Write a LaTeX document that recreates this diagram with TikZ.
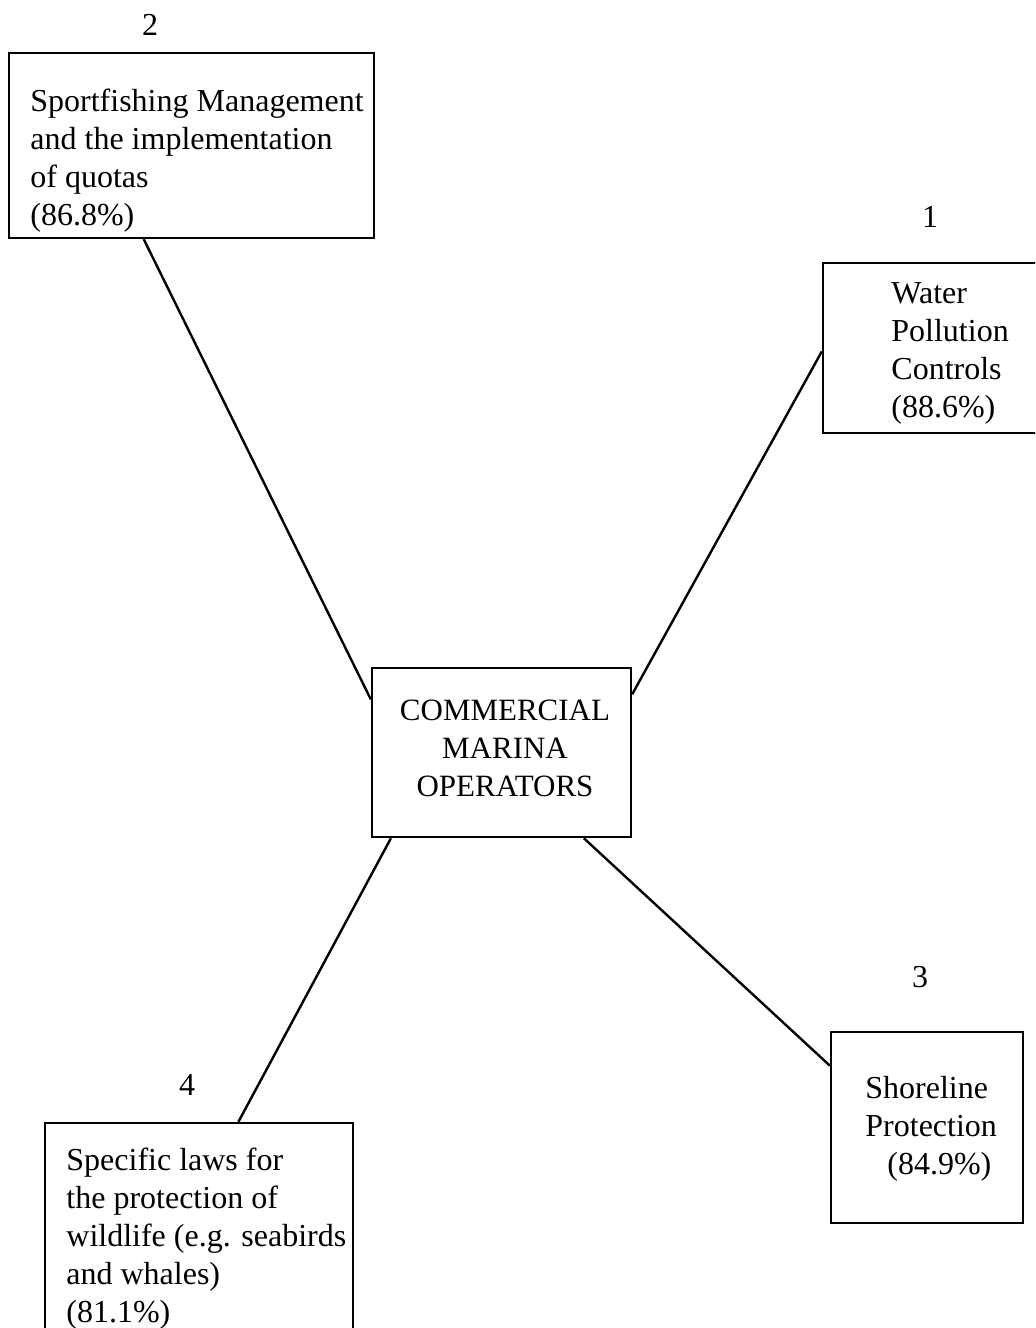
\documentclass[tikz,border=0pt]{standalone}
\usepackage{fontspec}
\setmainfont{Liberation Serif}
\usetikzlibrary{calc}
\tikzset{
  box/.style={draw, line width=1.2pt, inner sep=0pt, rectangle},
  txt/.style={inner sep=0pt, align=left, anchor=north west, font=\fontsize{16}{19}\selectfont},
  ctxt/.style={inner sep=0pt, align=center, anchor=north, font=\fontsize{15.5}{19}\selectfont},
  num/.style={inner sep=0pt, anchor=base, font=\fontsize{16}{19}\selectfont},
  link/.style={line width=1.2pt}
}
\begin{document}
\begin{tikzpicture}[x=0.5pt,y=-0.5pt]
\useasboundingbox (0,0) rectangle (1035,1328);
\clip (0,0) rectangle (1035,1328);
\fill[white] (0,0) rectangle (1035,1328);
% boxes
\node[box, minimum width=182.5pt, minimum height=92.5pt] (b2) at (191.5,145.5) {};
\node[box, minimum width=108.5pt, minimum height=85pt] (b1) at (931.5,348) {};
\node[box, minimum width=129.5pt, minimum height=84.5pt] (c) at (501.5,752.5) {};
\node[box, minimum width=96pt, minimum height=95.5pt] (b3) at (927,1127.5) {};
\node[box, minimum width=154pt, minimum height=108.5pt] (b4) at (199,1231.5) {};
% texts
\node[txt] (t2) at (30,84) {\strut Sportfishing Management\\and the implementation\\of quotas\\(86.8\%)};
\node[txt] (t1) at (891,276) {\strut Water\\Pollution\\Controls\\(88.6\%)};
\node[ctxt] (tc) at (505,693) {\strut COMMERCIAL\\MARINA\\OPERATORS};
\node[txt] (t3) at (865,1071) {\strut Shoreline\\Protection\\\hspace*{11pt}(84.9\%)};
\node[txt] (t4) at (66,1143) {\strut Specific laws for\\the protection of\\wildlife (e.g. seabirds\\and whales)\\(81.1\%)};
% numbers
\node[num] (n2) at (150,35) {2};
\node[num] (n1) at (930,227) {1};
\node[num] (n3) at (920,987) {3};
\node[num] (n4) at (187,1095) {4};
% connectors
\draw[link] ($(b2.south west)!0.37!(b2.south east)$) -- ($(c.north west)!0.19!(c.south west)$);
\draw[link] ($(b1.north west)!0.52!(b1.south west)$) -- ($(c.north east)!0.16!(c.south east)$);
\draw[link] ($(c.south west)!0.077!(c.south east)$) -- ($(b4.north west)!0.627!(b4.north east)$);
\draw[link] ($(c.south west)!0.815!(c.south east)$) -- ($(b3.north west)!0.18!(b3.south west)$);
\end{tikzpicture}
\end{document}
